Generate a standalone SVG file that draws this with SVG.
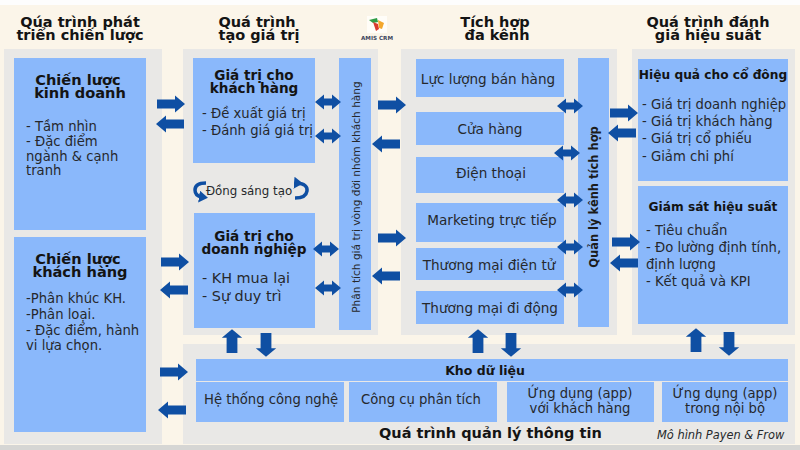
<svg xmlns="http://www.w3.org/2000/svg" width="800" height="450" viewBox="0 0 800 450">
<style>
text{font-family:"DejaVu Sans","Noto Sans",sans-serif;fill:#26282c;font-size:13.2px}
.h{font-weight:700;font-size:14.5px;fill:#141414;text-anchor:middle}
.t{font-weight:700;font-size:13.6px;fill:#141414;text-anchor:middle}
.c{text-anchor:middle}
.b{font-weight:700;fill:#141414}
.p{fill:#e9e8e6}
.n{fill:#8ab8fb}
.a{fill:#0f4fa3}
.cur{fill:none;stroke:#0f4fa3;stroke-width:3.5}
</style>
<defs>
<path id="ar" d="M0-4.5H18V-8.5L28 0 18 8.5V4.5H0Z"/>
<path id="ad" d="M0 0 9-7.5V-3.5H17V-7.5L26 0 17 7.5V3.5H9V7.5Z"/>
<marker id="mh" markerUnits="userSpaceOnUse" markerWidth="10" markerHeight="12" refX="3" refY="6" orient="auto"><path d="M0 0 9 6 0 12Z" fill="#0f4fa3"/></marker>
</defs>
<rect width="800" height="450" fill="#fbf5e9"/>
<rect width="800" height="5" fill="#fdfdfd"/>
<rect y="445" width="800" height="5" fill="#d6d6d4"/>
<g id="panels">
<rect class="p" x="4" y="49" width="158" height="395"/>
<rect class="p" x="183" y="49" width="195" height="286"/>
<rect class="p" x="401" y="49" width="216" height="286"/>
<rect class="p" x="632" y="49" width="163" height="286"/>
<rect class="p" x="183" y="344" width="612" height="100"/>
</g>
<g id="headers">
<text class="h"><tspan x="80" y="27">Qúa trình phát</tspan><tspan x="80" y="40">triển chiến lược</tspan></text>
<text class="h"><tspan x="257" y="27">Quá trình</tspan><tspan x="259" y="40">tạo giá trị</tspan></text>
<text class="h"><tspan x="495" y="27">Tích hợp</tspan><tspan x="497" y="40">đa kênh</tspan></text>
<text class="h"><tspan x="708" y="27">Quá trình đánh</tspan><tspan x="708" y="40">giá hiệu suất</tspan></text>
</g>
<g id="logo">
<rect x="367" y="16" width="20" height="17" fill="#fffdf8"/>
<path d="M369 20l8-2 1 4-5 1z" fill="#2f9d45"/>
<path d="M373 22l5 2 1 5-3 2z" fill="#d83a2e"/>
<path d="M378 20l6 3-2 6-3-1z" fill="#f3a72c"/>
<text x="377" y="40" text-anchor="middle" style="font-size:5.6px;font-weight:700;fill:#3b4660">AMIS CRM</text>
</g>
<g id="n-kinh-doanh">
<rect class="n" x="14" y="58" width="132" height="172"/>
<text class="t" style="font-size:14.6px"><tspan x="78" y="85">Chiến lược</tspan><tspan x="80" y="98">kinh doanh</tspan></text>
<text x="26" y="131">- Tầm nhìn</text>
<text x="26" y="146">- Đặc điểm</text>
<text x="26" y="161">ngành &amp; cạnh</text>
<text x="26" y="175">tranh</text>
</g>
<g id="n-khach-hang">
<rect class="n" x="14" y="237" width="132" height="195"/>
<text class="t" style="font-size:14.6px"><tspan x="78" y="264">Chiến lược</tspan><tspan x="80" y="277">khách hàng</tspan></text>
<text x="26" y="303">-Phân khúc KH.</text>
<text x="26" y="319">-Phân loại.</text>
<text x="26" y="335">- Đặc điểm, hành</text>
<text x="26" y="350">vi lựa chọn.</text>
</g>
<g id="n-gt-kh">
<rect class="n" x="193" y="58" width="122" height="105"/>
<text class="t"><tspan x="254" y="80">Giá trị cho</tspan><tspan x="254" y="93">khách hàng</tspan></text>
<text x="202" y="118">- Đề xuất giá trị</text>
<text x="202" y="135">- Đánh giá giá trị</text>
</g>
<g id="n-dong-sang-tao">
<text class="c" x="249" y="195" style="font-size:11.8px">Đồng sáng tạo</text>
</g>
<g id="n-gt-dn">
<rect class="n" x="194" y="213" width="121" height="115"/>
<text class="t"><tspan x="254" y="241">Giá trị cho</tspan><tspan x="254" y="254">doanh nghiệp</tspan></text>
<text x="202" y="283" style="font-size:14.4px">- KH mua lại</text>
<text x="202" y="301" style="font-size:14.4px">- Sự duy trì</text>
</g>
<g id="n-phan-tich">
<rect class="n" x="339" y="58" width="32" height="272"/>
<text class="c" transform="translate(360 197) rotate(-90)" style="font-size:10.6px">Phân tích giá trị vòng đời nhóm khách hàng</text>
</g>
<g id="n-luc-luong"><rect class="n" x="416" y="59" width="148" height="38"/><text class="c" x="488" y="84" style="font-size:13.6px">Lực lượng bán hàng</text></g>
<g id="n-cua-hang"><rect class="n" x="416" y="112" width="148" height="33"/><text class="c" x="490" y="134" style="font-size:13.6px">Cửa hàng</text></g>
<g id="n-dien-thoai"><rect class="n" x="416" y="157" width="148" height="36"/><text class="c" x="491" y="178" style="font-size:13.6px">Điện thoại</text></g>
<g id="n-marketing"><rect class="n" x="416" y="203" width="148" height="39"/><text class="c" x="492" y="225" style="font-size:13.6px">Marketing trực tiếp</text></g>
<g id="n-tmdt"><rect class="n" x="416" y="248" width="148" height="32"/><text class="c" x="489" y="270" style="font-size:13.6px">Thương mại điện tử</text></g>
<g id="n-tmdd"><rect class="n" x="416" y="291" width="148" height="33"/><text class="c" x="490" y="313" style="font-size:13.6px">Thương mại đi động</text></g>
<g id="n-quan-ly">
<rect class="n" x="578" y="58" width="31" height="269"/>
<text class="c" transform="translate(598 197) rotate(-90)" style="font-weight:700;fill:#1c1c1c;font-size:11.5px">Quản lý kênh tích hợp</text>
</g>
<g id="n-co-dong">
<rect class="n" x="638" y="59" width="150" height="122"/>
<text x="713" y="79" text-anchor="middle" class="b" style="font-size:12.2px">Hiệu quả cho cổ đông</text>
<text x="642" y="109">- Giá trị doanh nghiệp</text>
<text x="642" y="126">- Giá trị khách hàng</text>
<text x="642" y="143">- Giá trị cổ phiếu</text>
<text x="642" y="161">- Giảm chi phí</text>
</g>
<g id="n-giam-sat">
<rect class="n" x="638" y="186" width="150" height="138"/>
<text x="713" y="211" text-anchor="middle" class="b" style="font-size:12.2px">Giám sát hiệu suất</text>
<text x="646" y="235">- Tiêu chuẩn</text>
<text x="646" y="252">- Đo lường định tính,</text>
<text x="646" y="269">định lượng</text>
<text x="646" y="286">- Kết quả và KPI</text>
</g>
<g id="n-kho"><rect class="n" x="196" y="359" width="592" height="22"/><text class="b c" x="485" y="375" style="font-size:12.5px">Kho dữ liệu</text></g>
<g id="n-ht"><rect class="n" x="196" y="382" width="148" height="40"/><text x="204" y="404">Hệ thống công nghệ</text></g>
<g id="n-cc"><rect class="n" x="349" y="382" width="148" height="40"/><text x="361" y="404">Công cụ phân tích</text></g>
<g id="n-app-kh"><rect class="n" x="507" y="382" width="147" height="40"/><text class="c" x="580" y="398">Ứng dụng (app)</text><text class="c" x="580" y="413">với khách hàng</text></g>
<g id="n-app-nb"><rect class="n" x="662" y="382" width="126" height="40"/><text class="c" x="725" y="398">Ứng dụng (app)</text><text class="c" x="725" y="413">trong nội bộ</text></g>
<g id="n-footer">
<text x="379" y="438" class="b" style="font-size:14.5px">Quá trình quản lý thông tin</text>
<text x="657" y="439" style="font-size:11.4px;font-style:italic">Mô hình Payen &amp; Frow</text>
</g>
<g id="connectors" class="a">
<use href="#ar" x="157" y="104"/>
<use href="#ar" transform="translate(184 124) scale(-1 1)"/>
<use href="#ar" x="161" y="262"/>
<use href="#ar" transform="translate(188 290) scale(-1 1)"/>
<use href="#ar" x="160" y="372"/>
<use href="#ar" transform="translate(186 410) scale(-1 1)"/>
<use href="#ar" x="378" y="105"/>
<use href="#ar" transform="translate(400 144) scale(-1 1)"/>
<use href="#ar" x="378" y="238"/>
<use href="#ar" transform="translate(400 276) scale(-1 1)"/>
<use href="#ar" x="610" y="113"/>
<use href="#ar" transform="translate(636 133) scale(-1 1)"/>
<use href="#ar" x="612" y="242"/>
<use href="#ar" transform="translate(638 263) scale(-1 1)"/>
<use href="#ar" transform="translate(232 353) rotate(-90) scale(.85 1.2)"/>
<use href="#ar" transform="translate(266 333) rotate(90) scale(.85 1.2)"/>
<use href="#ar" transform="translate(478 353) rotate(-90) scale(.85 1.2)"/>
<use href="#ar" transform="translate(511 333) rotate(90) scale(.85 1.2)"/>
<use href="#ar" transform="translate(696 352) rotate(-90) scale(.85 1.2)"/>
<use href="#ar" transform="translate(729 332) rotate(90) scale(.85 1.2)"/>
<use href="#ad" x="315" y="102"/>
<use href="#ad" x="315" y="136"/>
<use href="#ad" x="313" y="249"/>
<use href="#ad" x="315" y="288"/>
<use href="#ad" x="557" y="106"/>
<use href="#ad" x="554" y="153"/>
<use href="#ad" x="557" y="200"/>
<use href="#ad" x="557" y="247"/>
<use href="#ad" x="557" y="290"/>
<path class="cur" d="M206 183Q195 183 195 190Q195 196 202 197" marker-end="url(#mh)"/>
<path class="cur" d="M297 183Q308 184 307 191Q306 198 295 198" marker-start="url(#mh)"/>
</g>
</svg>
